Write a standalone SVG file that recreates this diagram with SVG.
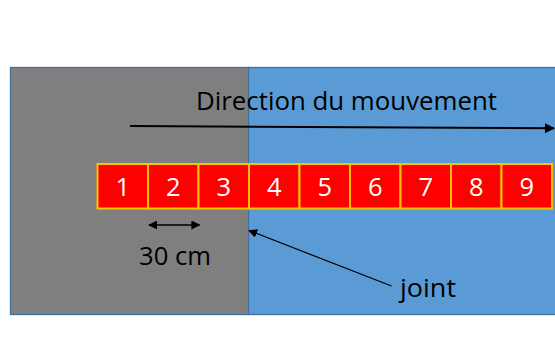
<svg xmlns="http://www.w3.org/2000/svg" width="555" height="338" viewBox="0 0 555 338">
<defs>
<style>
.lbl{font-family:"Open Sans","Noto Sans",sans-serif;fill:#000}
.num{font-family:"Open Sans","Noto Sans",sans-serif;fill:#fff;font-size:25.5px;text-anchor:middle}
.box{fill:#ff0000;stroke:#ffc000;stroke-width:2}
.ln{stroke:#000;fill:none}
</style>
<marker id="ah" viewBox="0 0 10 10" refX="9" refY="5" markerWidth="10" markerHeight="10" markerUnits="userSpaceOnUse" orient="auto-start-reverse">
<path d="M0,0 L10,5 L0,10 z" fill="#000"/>
</marker>
<marker id="ahs" viewBox="0 0 10 10" refX="9" refY="5" markerWidth="9" markerHeight="9" markerUnits="userSpaceOnUse" orient="auto-start-reverse">
<path d="M0,0 L10,5 L0,10 z" fill="#000"/>
</marker>
</defs>
<g id="zone-blue"><rect x="248" y="67.5" width="320" height="247" fill="#5b9bd5" stroke="#41719c" stroke-width="1.3"/></g>
<g id="zone-gray"><rect x="10.5" y="67.5" width="238" height="247" fill="#7f7f7f" stroke="#41719c" stroke-width="1.3"/></g>
<g id="boxes">
<g id="b1"><rect class="box" x="97.5" y="164" width="50.5" height="44.5"/><text class="num" x="122.7" y="196">1</text></g>
<g id="b2"><rect class="box" x="148" y="164" width="50.5" height="44.5"/><text class="num" x="173.2" y="196">2</text></g>
<g id="b3"><rect class="box" x="198.5" y="164" width="50.5" height="44.5"/><text class="num" x="223.7" y="196">3</text></g>
<g id="b4"><rect class="box" x="249" y="164" width="50.5" height="44.5"/><text class="num" x="274.2" y="196">4</text></g>
<g id="b5"><rect class="box" x="299.5" y="164" width="50.5" height="44.5"/><text class="num" x="324.7" y="196">5</text></g>
<g id="b6"><rect class="box" x="350" y="164" width="50.5" height="44.5"/><text class="num" x="375.2" y="196">6</text></g>
<g id="b7"><rect class="box" x="400.5" y="164" width="50.5" height="44.5"/><text class="num" x="425.7" y="196">7</text></g>
<g id="b8"><rect class="box" x="451" y="164" width="50.5" height="44.5"/><text class="num" x="476.2" y="196">8</text></g>
<g id="b9"><rect class="box" x="501.5" y="164" width="50.5" height="44.5"/><text class="num" x="526.7" y="196">9</text></g>
</g>
<g id="connectors">
<line class="ln" x1="130" y1="126" x2="554" y2="128.3" stroke-width="2" marker-end="url(#ah)"/>
<line class="ln" x1="149" y1="225" x2="199.5" y2="225" stroke-width="1.3" marker-start="url(#ahs)" marker-end="url(#ahs)"/>
<line class="ln" x1="391.5" y1="286" x2="249" y2="230.5" stroke-width="1.2" marker-end="url(#ahs)"/>
</g>
<g id="labels">
<text class="lbl" x="196" y="110" font-size="25" textLength="301" lengthAdjust="spacingAndGlyphs">Direction du mouvement</text>
<text class="lbl" x="139" y="265" font-size="25" textLength="72" lengthAdjust="spacingAndGlyphs">30 cm</text>
<text class="lbl" x="400" y="296.5" font-size="25" textLength="56" lengthAdjust="spacingAndGlyphs">joint</text>
</g>
</svg>
